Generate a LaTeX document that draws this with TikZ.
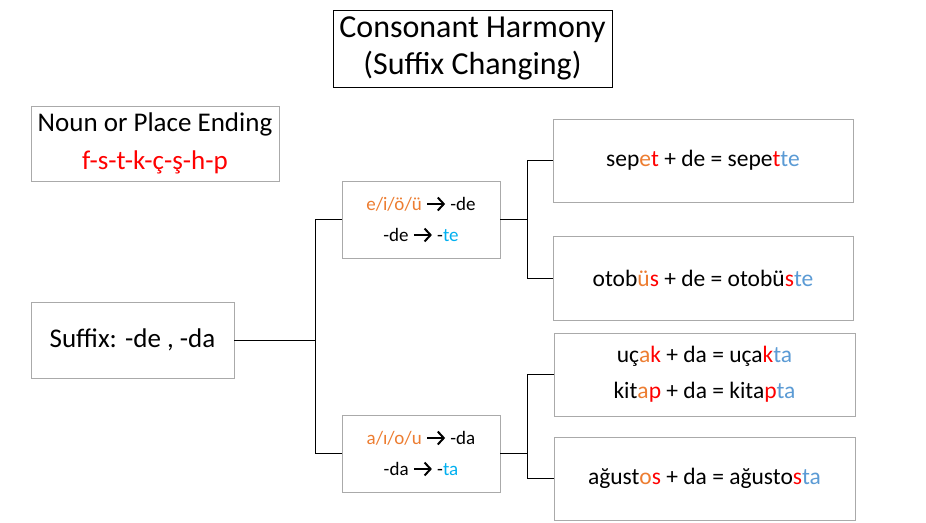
\documentclass[tikz,border=0pt]{standalone}
\usepackage{fontspec}
\usetikzlibrary{arrows.meta}
\setmainfont{Carlito}
\definecolor{orng}{RGB}{237,125,49}
\definecolor{rd}{RGB}{255,0,0}
\definecolor{cyanb}{RGB}{0,176,240}
\definecolor{blu}{RGB}{91,155,213}
\definecolor{boxgray}{RGB}{170,170,170}
\newcommand{\arr}{\tikz[baseline=-0.33em]\draw[line width=2pt,-{Straight Barb[length=6pt,width=13pt,line width=2pt]}] (0,0)--(18pt,0);}
\begin{document}
\begin{tikzpicture}[x=1pt,y=-1pt,
  gbox/.style={draw=boxgray,line width=0.8pt,inner sep=0pt,align=center,fill=white},
  conn/.style={draw=black,line width=0.9pt}]
\useasboundingbox[fill=white] (0,0) rectangle (926,522);
\node[draw=black,line width=1pt,minimum width=279pt,minimum height=77pt,align=center,inner sep=0pt,font=\fontsize{32}{37}\selectfont] (title) at (472.5,48.5) {Consonant Harmony\\(Suffix Changing)};
\node[gbox,minimum width=248pt,minimum height=75pt,font=\fontsize{27}{38}\selectfont] (noun) at (155,143.5) {Noun or Place Ending\\\textcolor{rd}{f-s-t-k-ç-ş-h-p}};
\node[gbox,minimum width=203pt,minimum height=76pt,font=\fontsize{27}{30}\selectfont] (suf) at (132.5,340) {Suffix: -de , -da};
\node[gbox,minimum width=158pt,minimum height=77pt,font=\fontsize{19}{31}\selectfont] (m1) at (421,219.5) {\textcolor{orng}{e/i/ö/ü} \arr{} -de\\-de \arr{} -\textcolor{cyanb}{te}};
\node[gbox,minimum width=158pt,minimum height=77pt,font=\fontsize{19}{31}\selectfont] (m2) at (421,453.5) {\textcolor{orng}{a/ı/o/u} \arr{} -da\\-da \arr{} -\textcolor{cyanb}{ta}};
\node[gbox,minimum width=300pt,minimum height=83pt,font=\fontsize{23.5}{28}\selectfont] (r1) at (703,160.5) {sep\textcolor{orng}{e}\textcolor{rd}{t} + de = sepe\textcolor{rd}{t}\textcolor{blu}{te}};
\node[gbox,minimum width=300pt,minimum height=84pt,font=\fontsize{23.5}{28}\selectfont] (r2) at (703,278) {otob\textcolor{orng}{ü}\textcolor{rd}{s} + de = otobü\textcolor{rd}{s}\textcolor{blu}{te}};
\node[gbox,minimum width=301pt,minimum height=83pt,font=\fontsize{23.5}{36}\selectfont] (r3) at (704.5,374.5) {uç\textcolor{orng}{a}\textcolor{rd}{k} + da = uça\textcolor{rd}{k}\textcolor{blu}{ta}\\kit\textcolor{orng}{a}\textcolor{rd}{p} + da = kita\textcolor{rd}{p}\textcolor{blu}{ta}};
\node[gbox,minimum width=301pt,minimum height=83pt,font=\fontsize{23.5}{28}\selectfont] (r4) at (704.5,478.5) {ağust\textcolor{orng}{o}\textcolor{rd}{s} + da = ağusto\textcolor{rd}{s}\textcolor{blu}{ta}};
\coordinate (j1) at (315,340);
\coordinate (j2) at (527,219.5);
\coordinate (j3) at (527,453.5);
\draw[conn] (suf.east) -- (j1);
\draw[conn] (j1) |- (m1.west);
\draw[conn] (j1) |- (m2.west);
\draw[conn] (m1.east) -- (j2);
\draw[conn] (j2) |- (r1.west);
\draw[conn] (j2) |- (r2.west);
\draw[conn] (m2.east) -- (j3);
\draw[conn] (j3) |- (r3.west);
\draw[conn] (j3) |- (r4.west);
\end{tikzpicture}
\end{document}
